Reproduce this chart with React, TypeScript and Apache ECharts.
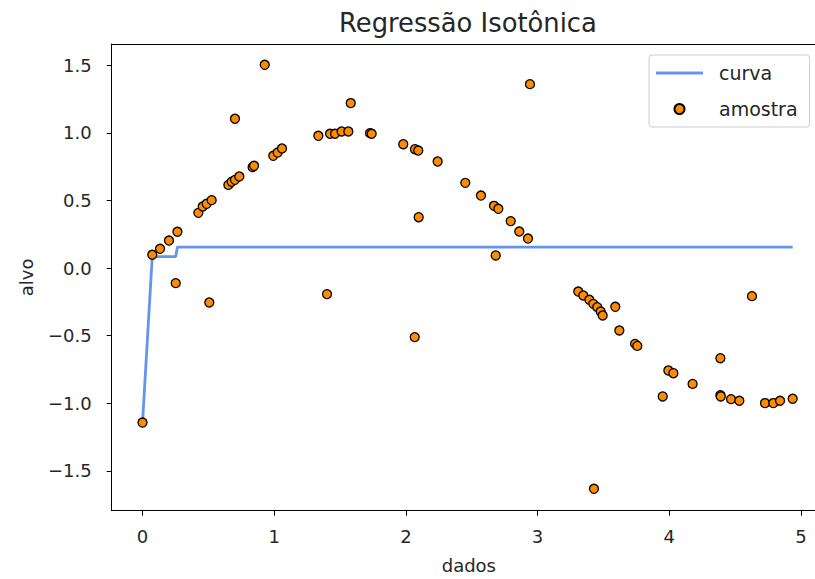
import React, { useEffect, useRef } from "react";
import * as echarts from "echarts";

const sampleX = [0.0, 0.074, 0.133, 0.201, 0.252, 0.265, 0.424, 0.457, 0.487, 0.507, 0.525, 0.652, 0.677, 0.702, 0.702, 0.735, 0.836, 0.847, 0.928, 0.993, 1.026, 1.059, 1.335, 1.401, 1.424, 1.462, 1.512, 1.563, 1.581, 1.727, 1.740, 1.980, 2.067, 2.069, 2.094, 2.097, 2.241, 2.451, 2.570, 2.669, 2.682, 2.702, 2.796, 2.861, 2.927, 2.942, 3.309, 3.347, 3.393, 3.423, 3.428, 3.453, 3.479, 3.494, 3.590, 3.621, 3.740, 3.757, 3.950, 3.993, 4.031, 4.177, 4.388, 4.388, 4.391, 4.469, 4.532, 4.628, 4.727, 4.790, 4.841, 4.937];
const sampleY = [-1.143, 0.098, 0.142, 0.203, -0.112, 0.268, 0.408, 0.455, 0.475, -0.255, 0.502, 0.615, 0.638, 0.652, 1.104, 0.677, 0.746, 0.756, 1.503, 0.830, 0.854, 0.884, 0.978, -0.193, 0.993, 0.993, 1.010, 1.010, 1.220, 0.998, 0.993, 0.916, -0.511, 0.879, 0.869, 0.376, 0.788, 0.630, 0.536, 0.460, 0.093, 0.438, 0.347, 0.270, 0.218, 1.360, -0.174, -0.203, -0.235, -0.265, -1.633, -0.289, -0.322, -0.351, -0.287, -0.462, -0.561, -0.576, -0.950, -0.758, -0.778, -0.857, -0.667, -0.940, -0.950, -0.970, -0.982, -0.208, -0.999, -0.999, -0.982, -0.967];

const curveX = [0.0, 0.074, 0.252, 0.265, 4.937];
const curveY = [-1.143, 0.085, 0.085, 0.155, 0.155];

const xTicks = [0, 1, 2, 3, 4, 5];
const yTicks = [-1.5, -1.0, -0.5, 0.0, 0.5, 1.0, 1.5];

const FONT = "DejaVu Sans";
const X_MIN = -0.234;
const X_MAX = 5.19;

export default function App() {
  const ref = useRef<HTMLDivElement>(null);
  useEffect(() => {
    if (!ref.current) return;
    const chart = echarts.init(ref.current, null, { renderer: "svg" });
    const fmtY = (v: number) => (v < 0 ? "\u2212" : "") + Math.abs(v).toFixed(1);
    const spine = { show: true, onZero: false, lineStyle: { color: "#000000", width: 1 } };
    chart.setOption({
      animation: false,
      backgroundColor: "#ffffff",
      title: {
        text: "Regressão Isotônica",
        left: 334,
        top: 5,
        textStyle: { fontFamily: FONT, fontSize: 25.8, fontWeight: "normal", color: "#262626" },
      },
      legend: {
        orient: "vertical",
        left: 649,
        top: 55,
        padding: [7, 12, 7, 7],
        itemWidth: 47,
        itemHeight: 10,
        itemGap: 14,
        borderColor: "#cccccc",
        borderWidth: 1,
        borderRadius: 3,
        backgroundColor: "rgba(255,255,255,0.8)",
        textStyle: { fontFamily: FONT, fontSize: 19, color: "#262626", lineHeight: 22, padding: [0, 0, 0, 11] },
        data: [
          { name: "curva", icon: "path://M0,0H47V2.8H0Z" },
          { name: "amostra" },
        ],
      },
      grid: {
        left: 111.7,
        top: 44,
        bottom: 68.3,
        right: -11,
        outerBoundsMode: "none",
        containLabel: false,
        show: false,
      },
      xAxis: [
        {
          type: "value",
          min: X_MIN,
          max: X_MAX,
          position: "bottom",
          name: "dados",
          nameLocation: "middle",
          nameGap: 46,
          nameTextStyle: { fontFamily: FONT, fontSize: 18, color: "#262626" },
          axisLine: spine,
          splitLine: { show: false },
          axisTick: { show: true, length: 5, lineStyle: { color: "#000", width: 1 }, customValues: xTicks },
          axisLabel: {
            fontFamily: FONT,
            fontSize: 18,
            color: "#262626",
            margin: 17,
            customValues: xTicks,
            formatter: (v: number) => String(v),
          },
        },
        {
          type: "value",
          min: X_MIN,
          max: X_MAX,
          position: "top",
          axisLine: spine,
          axisTick: { show: false },
          axisLabel: { show: false },
          splitLine: { show: false },
        },
      ],
      yAxis: {
        type: "value",
        min: -1.795,
        max: 1.657,
        position: "left",
        name: "alvo",
        nameLocation: "middle",
        nameRotate: 90,
        nameGap: 76,
        nameTextStyle: { fontFamily: FONT, fontSize: 18, color: "#262626" },
        axisLine: spine,
        splitLine: { show: false },
        axisTick: { show: true, length: 5, lineStyle: { color: "#000", width: 1 }, customValues: yTicks },
        axisLabel: {
          fontFamily: FONT,
          fontSize: 18,
          color: "#262626",
          margin: 20,
          customValues: yTicks,
          formatter: fmtY,
        },
      },
      series: [
        {
          name: "curva",
          type: "line",
          xAxisIndex: 0,
          data: curveX.map((x, i) => [x, curveY[i]]),
          showSymbol: false,
          symbol: "none",
          lineStyle: { color: "#6495ED", width: 2.8 },
          itemStyle: { color: "#6495ED" },
          z: 2,
        },
        {
          name: "amostra",
          type: "scatter",
          xAxisIndex: 0,
          data: sampleX.map((x, i) => [x, sampleY[i]]),
          symbolSize: 9,
          itemStyle: { color: "#FF8C00", borderColor: "#000000", borderWidth: 1.3, opacity: 1 },
          z: 3,
        },
      ],
    });
    return () => chart.dispose();
  }, []);
  return <div ref={ref} style={{ position: "fixed", left: 0, top: 0, width: 815, height: 579 }} />;
}
